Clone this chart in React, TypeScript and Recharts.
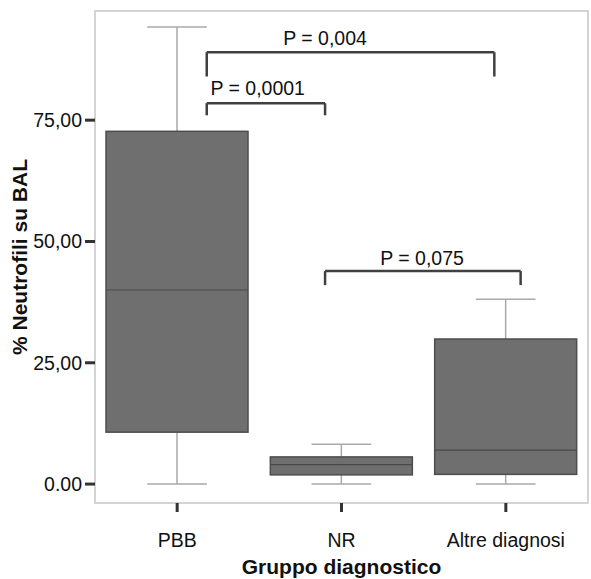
import {
  ComposedChart,
  Bar,
  XAxis,
  YAxis,
  ReferenceLine,
  ReferenceDot,
  ReferenceArea,
} from 'recharts'

// Box plot values (% neutrophils in BAL)
const groups = ['PBB', 'NR', 'Altre diagnosi']
const whiskerLow = [0, 0, 0]
const q1 = [10.7, 1.9, 2.0]
const median = [40.0, 4.0, 7.0]
const q3 = [72.7, 5.6, 29.9]
const whiskerHigh = [94.2, 8.2, 38.1]

const yTicks = [0, 25, 50, 75]
const yTickLabels = ['0.00', '25,00', '50,00', '75,00']
const yDomain: [number, number] = [-3.9, 97.5]

// significance brackets, x in category units (0..3, group centres at .5)
const pLabels = ['P = 0,004', 'P = 0,0001', 'P = 0,075']
const bracketFrom = [0.68, 0.68, 1.4]
const bracketTo = [2.43, 1.4, 2.59]
const bracketTop = [89.0, 78.5, 43.9]
const bracketLeg = [84.0, 76.0, 41.0]
const labelAt = [1.4, 0.99, 1.99]
const labelGap = [7, 8, 6]

const FONT = '"Liberation Sans", Arial, Helvetica, sans-serif'

const rows = groups.map((group, i) => ({
  group,
  center: i + 0.5,
  lo: whiskerLow[i],
  q1: q1[i],
  median: median[i],
  q3: q3[i],
  hi: whiskerHigh[i],
}))

function BoxShape(props: any) {
  const { x, y, width, height, payload } = props
  const top = Math.min(y, y + height)
  const h = Math.abs(height)
  const k = h / (payload.hi - payload.lo)
  const py = (v: number) => top + (payload.hi - v) * k
  const cx = x + width / 2
  const cap = width * 0.42
  const whisker = '#a9a9a9'

  return (
    <g>
      <line x1={cx} x2={cx} y1={py(payload.hi)} y2={py(payload.q3)} stroke={whisker} strokeWidth={1.5} />
      <line x1={cx} x2={cx} y1={py(payload.q1)} y2={py(payload.lo)} stroke={whisker} strokeWidth={1.5} />
      <line x1={cx - cap / 2} x2={cx + cap / 2} y1={py(payload.hi)} y2={py(payload.hi)} stroke={whisker} strokeWidth={1.5} />
      <line x1={cx - cap / 2} x2={cx + cap / 2} y1={py(payload.lo)} y2={py(payload.lo)} stroke={whisker} strokeWidth={1.5} />
      <rect
        x={x}
        y={py(payload.q3)}
        width={width}
        height={py(payload.q1) - py(payload.q3)}
        fill="#6f6f6f"
        stroke="#4d4d4d"
        strokeWidth={1.5}
      />
      <line x1={x} x2={x + width} y1={py(payload.median)} y2={py(payload.median)} stroke="#4a4a4a" strokeWidth={1.2} />
    </g>
  )
}

export default function App() {
  return (
    <div style={{ position: 'absolute', left: 0, top: 0, background: '#fff' }}>
      <ComposedChart
        width={591}
        height={579}
        data={rows}
        margin={{ top: 11, right: 3, bottom: 0, left: 0 }}
        barCategoryGap="6.7%"
      >
        <XAxis
          dataKey="group"
          interval={0}
          height={76}
          axisLine={false}
          tickSize={9}
          tickMargin={21}
          tickLine={{ stroke: '#333', strokeWidth: 3 }}
          tick={{ fill: '#111', fontSize: 19.5, fontFamily: FONT }}
          label={{
            value: 'Gruppo diagnostico',
            position: 'insideBottom',
            offset: 5,
            style: { fill: '#111', fontSize: 21, fontWeight: 700, fontFamily: FONT },
          }}
        />
        <XAxis
          xAxisId="num"
          dataKey="center"
          type="number"
          domain={[0, 3]}
          allowDataOverflow
          hide
        />
        <YAxis
          domain={yDomain}
          allowDataOverflow
          ticks={yTicks}
          interval={0}
          width={95}
          axisLine={false}
          tickSize={10}
          tickMargin={3}
          tickLine={{ stroke: '#333', strokeWidth: 3 }}
          tickFormatter={(v: number) => yTickLabels[yTicks.indexOf(v)]}
          tick={{ fill: '#111', fontSize: 19.5, fontFamily: FONT }}
          label={{
            value: '% Neutrofili su BAL',
            angle: -90,
            position: 'insideLeft',
            offset: 20,
            style: { textAnchor: 'middle', fill: '#111', fontSize: 21, fontWeight: 700, fontFamily: FONT },
          }}
        />

        {/* plot frame */}
        <ReferenceArea
          xAxisId="num"
          x1={0}
          x2={3}
          y1={yDomain[0]}
          y2={yDomain[1]}
          fill="none"
          stroke="#c6c6c6"
          strokeWidth={1.5}
          ifOverflow="visible"
        />

        <Bar
          dataKey={(d: any) => [d.lo, d.hi]}
          shape={BoxShape}
          isAnimationActive={false}
        />

        {pLabels.map((text, i) => (
          <ReferenceLine
            key={`h${i}`}
            xAxisId="num"
            segment={[
              { x: bracketFrom[i], y: bracketTop[i] },
              { x: bracketTo[i], y: bracketTop[i] },
            ]}
            stroke="#404040"
            strokeWidth={2.5}
            ifOverflow="visible"
          />
        ))}
        {pLabels.map((text, i) => (
          <ReferenceLine
            key={`l${i}`}
            xAxisId="num"
            segment={[
              { x: bracketFrom[i], y: bracketTop[i] },
              { x: bracketFrom[i], y: bracketLeg[i] },
            ]}
            stroke="#404040"
            strokeWidth={2.5}
            ifOverflow="visible"
          />
        ))}
        {pLabels.map((text, i) => (
          <ReferenceLine
            key={`r${i}`}
            xAxisId="num"
            segment={[
              { x: bracketTo[i], y: bracketTop[i] },
              { x: bracketTo[i], y: bracketLeg[i] },
            ]}
            stroke="#404040"
            strokeWidth={2.5}
            ifOverflow="visible"
          />
        ))}
        {pLabels.map((text, i) => (
          <ReferenceDot
            key={`t${i}`}
            xAxisId="num"
            x={labelAt[i]}
            y={bracketTop[i]}
            r={0}
            fill="none"
            stroke="none"
            ifOverflow="visible"
            label={{
              value: text,
              position: 'top',
              offset: labelGap[i],
              style: { fill: '#111', fontSize: 19.5, fontFamily: FONT },
            }}
          />
        ))}
      </ComposedChart>
    </div>
  )
}
